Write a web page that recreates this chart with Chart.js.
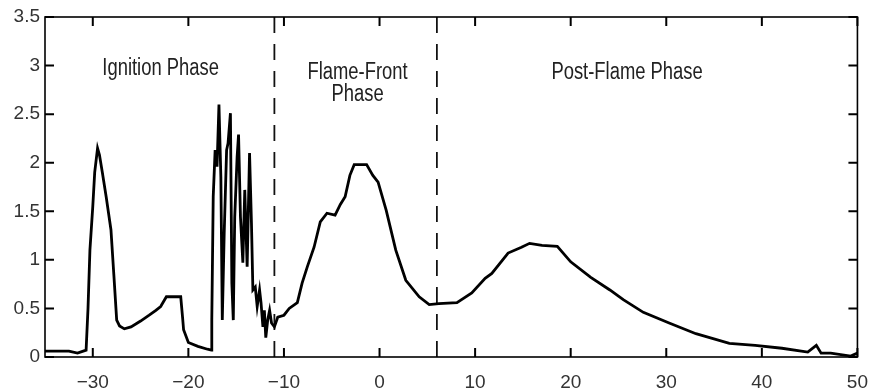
<!DOCTYPE html>
<html>
<head>
<meta charset="utf-8">
<title>Ignition / Flame-Front / Post-Flame</title>
<script src="https://cdn.jsdelivr.net/npm/chart.js@4.4.1/dist/chart.umd.min.js"></script>
<style>
  body { margin: 0; background: #fff; }
  #chart { display: block; }
</style>
</head>
<body>
<canvas id="chart" width="882" height="392"></canvas>
<script>
'use strict';

// data

var crankAngle = [
  -35, -33.5, -32.5, -31.6, -31.0, -30.7, -30.5, -30.3, -30.0, -29.8,
  -29.5, -29.3, -29.0, -28.6, -28.1, -27.8, -27.5, -27.2, -26.7, -26.0,
  -25.0, -24.1, -23.4, -22.9, -22.3, -21.5, -20.8, -20.6, -20.5, -20.0,
  -19.0, -18.0, -17.6, -17.55, -17.4, -17.2, -17.0, -16.8, -16.6, -16.45,
  -16.25, -16.0, -15.85, -15.6, -15.45, -15.3, -15.15, -14.9, -14.75, -14.55,
  -14.3, -14.1, -13.85, -13.6, -13.4, -13.25, -13.0, -12.8, -12.55, -12.4,
  -12.2, -12.05, -11.9, -11.7, -11.5, -11.3, -11.0, -10.65, -10.0, -9.45,
  -8.6, -8.1, -7.55, -6.85, -6.2, -5.5, -4.65, -4.1, -3.6, -3.1,
  -2.65, -1.35, -0.7, -0.15, 0.7, 1.7, 2.75, 4.15, 5.2, 6.2,
  8.1, 9.65, 11.05, 11.75, 13.45, 14.85, 15.7, 17.0, 18.6, 20.0,
  22.1, 24.1, 25.5, 27.6, 30.3, 33.1, 36.6, 39.3, 42.1, 44.8,
  45.7, 46.2, 47.2, 49.3, 50
];

var intensity = [
  0.06, 0.06, 0.06, 0.04, 0.06, 0.07, 0.5, 1.1, 1.55, 1.9,
  2.15, 2.08, 1.9, 1.65, 1.31, 0.85, 0.38, 0.32, 0.29, 0.31,
  0.37, 0.43, 0.48, 0.52, 0.62, 0.62, 0.62, 0.4, 0.28, 0.15,
  0.11, 0.08, 0.07, 0.38, 1.65, 2.13, 1.96, 2.6, 1.85, 0.38,
  1.28, 2.13, 2.2, 2.51, 0.76, 0.38, 1.44, 2.06, 2.29, 1.44,
  0.97, 1.72, 0.93, 2.1, 1.38, 0.69, 0.72, 0.52, 0.69, 0.56,
  0.31, 0.48, 0.2, 0.38, 0.48, 0.35, 0.31, 0.41, 0.43, 0.5,
  0.56, 0.76, 0.93, 1.13, 1.39, 1.48, 1.46, 1.57, 1.65, 1.87,
  1.98, 1.98, 1.87, 1.8, 1.51, 1.1, 0.79, 0.62, 0.54, 0.55,
  0.56, 0.66, 0.81, 0.86, 1.07, 1.13, 1.17, 1.15, 1.14, 0.98,
  0.82, 0.69, 0.59, 0.46, 0.35, 0.24, 0.14, 0.12, 0.09, 0.05,
  0.12, 0.04, 0.04, 0.01, 0.04
];

var phaseBounds = [-11, 6];
var xTicks = [-30, -20, -10, 0, 10, 20, 30, 40, 50];
var yTicks = [0, 0.5, 1, 1.5, 2, 2.5, 3, 3.5];

var phaseNames = ['Ignition Phase', 'Flame-Front\nPhase', 'Post-Flame Phase'];
var phaseNameAt = [[-22.9, 2.97], [-2.3, 2.93], [25.9, 2.93]];

var FONT = '"Liberation Sans", Arial, sans-serif';

// build datasets

var curve = [];
for (var i = 0; i < crankAngle.length; i++) {
  curve.push({ x: crankAngle[i], y: intensity[i] });
}

var datasets = [{
  data: curve,
  borderColor: '#000',
  borderWidth: 2.8,
  pointRadius: 0,
  tension: 0
}];

phaseBounds.forEach(function(b) {
  datasets.push({
    data: [{ x: b, y: 0 }, { x: b, y: 3.5 }],
    borderColor: '#111',
    borderWidth: 1.8,
    borderDash: [16, 11],
    pointRadius: 0
  });
});

// box with inward ticks, like the original plot
var boxPlugin = {
  id: 'box',
  afterDraw: function(chart) {
    var ctx = chart.ctx;
    var a = chart.chartArea;
    var xs = chart.scales.x;
    var ys = chart.scales.y;
    var len = 9;
    ctx.save();
    ctx.strokeStyle = '#000';
    ctx.lineWidth = 1.6;
    ctx.strokeRect(a.left, a.top, a.right - a.left, a.bottom - a.top);
    ctx.lineWidth = 2;
    ctx.beginPath();
    xTicks.forEach(function(v) {
      var px = xs.getPixelForValue(v);
      ctx.moveTo(px, a.bottom);
      ctx.lineTo(px, a.bottom - len);
      ctx.moveTo(px, a.top);
      ctx.lineTo(px, a.top + len);
    });
    yTicks.forEach(function(v) {
      var py = ys.getPixelForValue(v);
      ctx.moveTo(a.left, py);
      ctx.lineTo(a.left + len, py);
      ctx.moveTo(a.right, py);
      ctx.lineTo(a.right - len, py);
    });
    ctx.stroke();

    // phase names, squeezed a bit like the narrow font in the original
    ctx.fillStyle = '#222';
    ctx.font = '23px ' + FONT;
    ctx.textAlign = 'center';
    ctx.textBaseline = 'middle';
    phaseNames.forEach(function(name, k) {
      var px = xs.getPixelForValue(phaseNameAt[k][0]);
      var py = ys.getPixelForValue(phaseNameAt[k][1]);
      name.split('\n').forEach(function(line, j) {
        ctx.save();
        ctx.translate(px, py + j * 22);
        ctx.scale(0.8, 1);
        ctx.fillText(line, 0, 0);
        ctx.restore();
      });
    });
    ctx.restore();
  }
};

new Chart(document.getElementById('chart'), {
  type: 'line',
  data: { datasets: datasets },
  options: {
    responsive: false,
    animation: false,
    layout: { padding: { top: 17, right: 12, left: 0, bottom: 0 } },
    plugins: { legend: { display: false }, tooltip: { enabled: false } },
    scales: {
      x: {
        type: 'linear',
        min: -35,
        max: 50,
        grid: { display: false, drawTicks: false },
        border: { display: false },
        afterBuildTicks: function(scale) {
          scale.ticks = xTicks.map(function(v) { return { value: v }; });
        },
        afterFit: function(scale) { scale.height = 35; },
        ticks: {
          padding: 14,
          color: '#333',
          font: { family: FONT, size: 19 },
          maxRotation: 0,
          autoSkip: false,
          callback: function(v) { return String(v).replace('-', '\u2212'); }
        }
      },
      y: {
        min: 0,
        max: 3.5,
        grid: { display: false, drawTicks: false },
        border: { display: false },
        afterBuildTicks: function(scale) {
          scale.ticks = yTicks.map(function(v) { return { value: v }; });
        },
        afterFit: function(scale) { scale.width = 45; },
        ticks: {
          padding: 5,
          color: '#333',
          font: { family: FONT, size: 19 },
          callback: function(v) { return String(v); }
        }
      }
    }
  },
  plugins: [boxPlugin]
});
</script>
</body>
</html>
